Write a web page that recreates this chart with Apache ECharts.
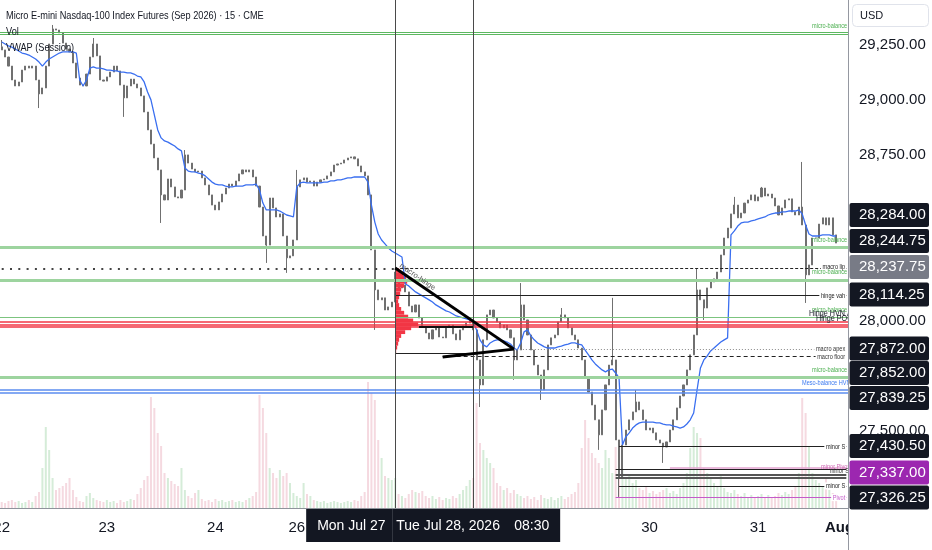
<!DOCTYPE html>
<html><head><meta charset="utf-8">
<script src="https://cdn.jsdelivr.net/npm/echarts@6/dist/echarts.min.js"></script>
<style>html,body{margin:0;padding:0;background:#fff}#c{width:932px;height:550px}</style>
</head><body><div id="c"></div>
<script>
// ---------------- DATA ----------------
const slotCount = 250;
const firstOpen = 29240;
const closes = [29226,29194,29153,29090,29063,29081,29135,29153,29144,29153,
29090,29027,29054,29153,29253,29321,29316,29303,29257,29230,
29217,29167,29099,29067,29063,29117,29194,29253,29199,29090,
29085,29104,29126,29153,29131,29067,29009,29063,29094,29072,
29054,29018,28945,28864,28800,28737,28683,28570,28547,28642,
28606,28561,28556,28592,28751,28714,28687,28674,28678,28647,
28615,28570,28524,28502,28538,28574,28601,28619,28610,28633,
28665,28683,28674,28683,28651,28610,28515,28384,28343,28556,
28511,28470,28484,28384,28285,28294,28366,28606,28638,28647,
28628,28633,28610,28628,28638,28642,28656,28674,28705,28710,
28714,28728,28737,28742,28733,28701,28674,28656,28570,28321,
28140,28095,28104,28049,28063,28085,28221,28149,28162,28131,
28067,28040,28072,28013,27972,27945,27918,27959,27972,27927,
27923,27972,27981,27941,27914,27959,27977,27990,28004,27959,
27823,27710,27914,28027,28049,28013,27995,27968,27981,27959,
27923,27823,27868,28072,28004,27936,27868,27800,27755,27687,
27778,27891,27923,27936,27995,28027,28013,27968,27936,27914,
27877,27823,27742,27678,27619,27552,27484,27597,27710,27800,
27823,27461,27289,27438,27506,27552,27588,27633,27597,27552,
27506,27515,27493,27461,27447,27429,27452,27506,27552,27606,
27660,27710,27778,27846,27936,28140,28095,28058,28149,28176,
28190,28221,28298,28375,28420,28484,28524,28466,28488,28533,
28547,28570,28543,28561,28601,28565,28574,28556,28520,28479,
28511,28547,28552,28493,28479,28515,28434,28208,28253,28375,
28375,28438,28466,28434,28466,28389,28352];
const wickIdx  = [0,11,15,27,36,47,54,78,84,87,110,141,151,153,159,165,176,180,182,187,195,205,207,216,224,236,237];
const wickLow  = [null,28963,null,null,28923,28443,null,28262,28217,null,27959,27610,27733,null,27642,null,27416,null,27203,null,27357,null,28004,null,null,null,28081];
const wickHigh = [29271,null,29339,29280,null,null,28773,null,null,28683,null,null,null,28171,null,28058,null,28104,null,27687,null,28239,null,28561,28606,28719,null];
const vwap = [29262,29253,29244,29239,29230,29221,29212,29208,29203,29194,
29185,29171,29153,29171,29185,29194,29203,29212,29217,29217,
29217,29217,29212,29090,29063,29090,29144,29149,29144,29144,
29140,29135,29135,29131,29131,29126,29126,29122,29122,29117,
29108,29104,29081,29036,29000,28932,28864,28828,28814,28809,
28800,28791,28778,28769,28692,28678,28674,28674,28669,28665,
28656,28642,28628,28619,28615,28615,28610,28606,28606,28610,
28610,28610,28615,28615,28615,28619,28592,28533,28502,28502,
28502,28502,28497,28488,28479,28475,28470,28606,28624,28628,
28624,28624,28624,28624,28624,28628,28628,28633,28633,28638,
28638,28642,28647,28647,28651,28651,28651,28651,28628,28524,
28447,28393,28366,28348,28330,28316,28307,28298,28289,28167,
28158,28144,28131,28122,28113,28104,28095,28085,28072,28063,
28054,28045,28040,28031,28022,28018,28013,28009,28004,27995,
27959,27914,27891,27882,27900,27909,27914,27914,27909,27904,
27895,27877,27868,27900,27950,27959,27932,27914,27900,27891,
27882,27877,27877,27877,27882,27886,27891,27895,27900,27900,
27895,27891,27868,27846,27823,27805,27791,27778,27769,27778,
27782,27764,27742,27438,27475,27493,27515,27529,27538,27542,
27542,27542,27542,27538,27538,27533,27529,27529,27524,27520,
27515,27520,27533,27552,27583,27687,27787,27823,27841,27864,
27877,27891,27904,27914,27923,28389,28407,28429,28443,28447,
28447,28452,28456,28461,28466,28470,28479,28484,28488,28488,
28493,28493,28497,28497,28497,28502,28484,28434,28393,28384,
28384,28384,28389,28389,28389,28384,28384];
const volumes = [30,25,35,40,30,35,25,30,40,30,
60,80,200,405,290,150,90,100,110,125,
150,90,55,35,30,60,75,50,40,35,
30,40,30,35,25,40,30,35,45,40,
70,100,140,160,555,500,375,310,175,150,
135,120,110,200,90,60,50,75,90,45,
35,40,30,45,35,40,30,35,40,30,
35,30,40,50,60,80,565,500,375,200,
175,150,190,160,175,125,75,60,50,125,
70,60,40,35,30,35,25,30,35,30,
25,30,35,30,40,35,60,80,630,575,
540,340,250,160,150,140,150,70,60,50,
70,90,80,75,85,60,50,60,45,55,
40,50,45,60,50,70,90,110,140,150,
525,325,290,250,225,200,125,110,90,100,
75,90,70,60,50,60,45,55,40,65,
50,45,55,40,50,60,45,55,70,80,
125,300,440,350,275,250,225,200,290,250,
175,305,225,190,150,160,125,140,100,90,
110,75,85,70,80,90,100,75,85,70,
100,125,175,300,405,375,350,200,175,150,
125,110,160,100,80,75,90,70,60,75,
55,65,50,60,70,55,65,50,60,75,
65,80,70,90,110,175,550,475,310,175,
140,125,110,150,90,75,70];
const dayTicks = ['22','23','24','26','30','31','Aug'];
const dayTickIdx = [0,31,63,87,191,223,247];
const priceTicks = [29250,29000,28750,28500,28250,28000,27750,27500];
const tagValues = [28284.00,28244.75,28237.75,28114.25,27872.00,27852.00,27839.25,27430.50,27337.00,27326.25];
const profileSlot = 116;
const profileTops = [28237.75,28220.25,28202.75,28185.25,28167.75,28150.25,28132.75,28115.25,28097.75,28080.25,28062.75,28045.25,28027.75,28010.25,27992.75,27975.25,27957.75,27940.25,27922.75,27905.25,27887.75,27870.25];
const profileStep = 17.5;
const profileVols = [400,800,1100,1200,900,600,500,400,300,400,600,900,1300,1800,2300,1600,1000,600,400,300,200,100];
const levelPrices = [29305,29296,28332,28237.75,28237.75,28183,28114.25,28014,27997,27984,27973,27972,27872,27852,27839.25,27746,27690,27675,27430.5,27337,27326.25,27302,27290,27253,27200];
const levelFrom   = [0,0,0,0,116,0,116,0,0,0,0,123,151,116,130,0,0,0,182,197,181,181,181,182,181];
const levelTo     = [249,249,249,116,249,249,249,249,249,249,249,139,249,139,249,249,249,249,249,249,249,249,249,249,249];
const levelKind   = ['green','green','band','dots','fine','band','solid','thin','red','red','red','poc','apex','solid','floor','band','blue','blue','solid','pink','solid','thick','thick','solid','magenta'];
const trendA = [[116,28239],[151,27872]];
const trendB = [[130,27836],[151,27872]];
const markerSlots = [116,139];
const labelTexts  = ['micro-balance','micro-balance','macro lip','micro-balance','hinge vah','micro-balance','Hinge HVN A','Hinge POC','macro apex','macro floor','micro-balance','Meso-balance HVN','minor S','minor Pivot','minor S','minor S','Pivot'];
const labelPrices = [29305,28332,28237.75,28183,28114.25,28014,28014,28014,27872,27839.25,27746,27690,27430.5,27337,27326.25,27253,27200];

// ---------------- STYLE / LAYOUT ----------------
const FONT = '"Liberation Sans", Arial, sans-serif';
const kindStyle = {
  green:{color:'#5cb860',width:1,type:'solid'},
  band:{color:'#9dd49f',width:3,type:'solid'},
  thin:{color:'#7cc47f',width:1,type:'solid'},
  dots:{color:'#444',width:2,type:[2,6.3]},
  fine:{color:'#222',width:1,type:[3,2]},
  solid:{color:'#222',width:1,type:'solid'},
  red:{color:'#f23645',width:1.6,type:'solid'},
  poc:{color:'#111',width:2,type:'solid'},
  apex:{color:'#8a8a8a',width:1,type:[1,2]},
  floor:{color:'#222',width:1.2,type:[4,3]},
  blue:{color:'#5b8def',width:1.5,type:'solid'},
  pink:{color:'#e3a3d0',width:1.5,type:'solid'},
  thick:{color:'#555',width:2,type:'solid'},
  magenta:{color:'#c45ac9',width:1,type:'solid'}
};
const labelLayout = [
  {x:812,dy:-6.5,a:'left',c:'#4caf50',s:7},
  {x:812,dy:-7.5,a:'left',c:'#4caf50',s:7},
  {x:846,dy:-1.5,a:'right',c:'#222',s:7,bg:1},
  {x:812,dy:-8,a:'left',c:'#4caf50',s:7},
  {x:846,dy:0,a:'right',c:'#222',s:7,bg:1},
  {x:812,dy:-7.5,a:'left',c:'#4caf50',s:7},
  {x:809,dy:-4.7,a:'left',c:'#131722',s:9},
  {x:816,dy:0.6,a:'left',c:'#131722',s:9},
  {x:846,dy:0,a:'right',c:'#333',s:7,bg:1},
  {x:846,dy:1,a:'right',c:'#333',s:7,bg:1},
  {x:812,dy:-7,a:'left',c:'#4caf50',s:7},
  {x:802,dy:-6,a:'left',c:'#3d7af0',s:7},
  {x:846,dy:0,a:'right',c:'#222',s:7,bg:1},
  {x:849,dy:-0.5,a:'right',c:'#d06ab5',s:7},
  {x:849,dy:1,a:'right',c:'#333',s:7},
  {x:846,dy:0,a:'right',c:'#222',s:7,bg:1},
  {x:846,dy:0,a:'right',c:'#c45ac9',s:7,bg:1}
];
const tagY = [215,241,267,294.5,348.5,373,398,446,472.5,497.5];
const tagFill = ['#131722','#131722','#787b86','#131722','#131722','#131722','#131722','#131722','#9c27b0','#131722'];
const candleColor = '#707070';
const volUp = '#d5ecd8', volDown = '#f5d9e0';

// ---------------- BUILD ----------------
const ohlc = closes.map((c, i) => {
  const o = i ? closes[i - 1] : firstOpen;
  let lo = Math.min(o, c), hi = Math.max(o, c);
  const k = wickIdx.indexOf(i);
  if (k >= 0) {
    if (wickLow[k] != null) lo = Math.min(lo, wickLow[k]);
    if (wickHigh[k] != null) hi = Math.max(hi, wickHigh[k]);
  }
  return [o, c, lo, hi];
});
const slotNames = Array.from({length: slotCount}, (_, i) => 's' + i);
const slotLabel = {};
dayTickIdx.forEach((idx, k) => { slotLabel['s' + idx] = dayTicks[k]; });

const markData = [];
levelPrices.forEach((p, i) => {
  const ls = kindStyle[levelKind[i]];
  if (levelFrom[i] === 0 && levelTo[i] === slotCount - 1) {
    markData.push({yAxis: p, lineStyle: ls});
  } else {
    markData.push([{coord: [levelFrom[i], p], lineStyle: ls}, {coord: [levelTo[i], p]}]);
  }
});
markerSlots.forEach(s => markData.push({xAxis: s, lineStyle: {color: '#4a4a4a', width: 1, type: 'solid'}}));
[trendA, trendB].forEach(t => markData.push([{coord: t[0], lineStyle: {color: '#000', width: 3, type: 'solid'}}, {coord: t[1]}]));

const chart = echarts.init(document.getElementById('c'), null, {renderer: 'canvas'});
chart.setOption({
  animation: false,
  backgroundColor: '#ffffff',
  grid: {left: 0, right: 84, top: 0, bottom: 42, containLabel: false, outerBoundsMode: 'none'},
  xAxis: {
    type: 'category', data: slotNames, boundaryGap: true,
    axisLine: {show: true, lineStyle: {color: '#8f939b', width: 1}},
    axisTick: {show: false}, splitLine: {show: false},
    axisLabel: {
      interval: 0, margin: 12, fontSize: 15, color: '#131722', fontFamily: FONT,
      formatter: v => { const t = slotLabel[v]; if (!t) return ''; return t === 'Aug' ? '{b|Aug}' : t; },
      rich: {b: {fontWeight: 'bold', fontSize: 15, color: '#131722', fontFamily: FONT}}
    }
  },
  yAxis: [
    {type: 'value', position: 'right', min: 27153, max: 29452, axisLine: {show: false}, axisTick: {show: false}, axisLabel: {show: false}, splitLine: {show: false}},
    {type: 'value', min: 0, max: 2540, show: false, splitLine: {show: false}}
  ],
  series: [
    {type: 'bar', name: 'Vol', yAxisIndex: 1, barWidth: 2, silent: true, z: 1,
     data: volumes.map((v, i) => ({value: v, itemStyle: {color: ohlc[i] && ohlc[i][1] >= ohlc[i][0] ? volUp : volDown}}))},
    {type: 'candlestick', name: 'MNQ', data: ohlc, barWidth: 1.6, silent: true, z: 2,
     itemStyle: {color: candleColor, color0: candleColor, borderColor: candleColor, borderColor0: candleColor, borderWidth: 1}},
    {type: 'custom', name: 'profile', silent: true, z: 3,
     data: profileTops.map((t, k) => [profileSlot, t, t - profileStep, profileVols[k]]),
     encode: {x: 0, y: [1, 2]},
     renderItem: (params, api) => {
       const a = api.coord([api.value(0), api.value(1)]);
       const b = api.coord([api.value(0), api.value(2)]);
       return {type: 'rect', shape: {x: a[0], y: a[1], width: api.value(3) * 0.01, height: b[1] - a[1]}, style: {fill: '#f23645'}};
     }},
    {type: 'line', name: 'VWAP (Session)', data: vwap, showSymbol: false, symbol: 'none', silent: true, z: 4,
     lineStyle: {color: '#3a6ff0', width: 1.3},
     markLine: {silent: true, symbol: ['none', 'none'], label: {show: false}, animation: false, data: markData}}
  ]
});

// ---------------- OVERLAY TEXT ----------------
const Y = p => chart.convertToPixel({yAxisIndex: 0}, p);
const X = i => chart.convertToPixel({xAxisIndex: 0}, i);
const F = (s, w) => (w || 'normal') + ' ' + s + 'px ' + FONT;
const els = [];
labelTexts.forEach((t, k) => {
  const L = labelLayout[k];
  els.push({type: 'text', x: L.x, y: Y(labelPrices[k]) + L.dy, scaleX: 0.8, z: 10, silent: true,
    style: {text: t, fill: L.c, font: F(L.s), align: L.a, verticalAlign: 'middle', textAlign: L.a, textVerticalAlign: 'middle',
            backgroundColor: L.bg ? '#ffffff' : 'transparent', padding: L.bg ? [0, 1, 0, 2] : 0}});
});
// trendline caption
const ta = chart.convertToPixel({xAxisIndex: 0, yAxisIndex: 0}, trendA[0]);
const tb = chart.convertToPixel({xAxisIndex: 0, yAxisIndex: 0}, trendA[1]);
els.push({type: 'text', x: ta[0] + 5, y: ta[1] - 3, rotation: -Math.atan2(tb[1] - ta[1], tb[0] - ta[0]), z: 11, silent: true,
  style: {text: 'macro-hinge', fill: '#555', font: F(7.5), align: 'left', verticalAlign: 'middle', textAlign: 'left', textVerticalAlign: 'middle'}});
// legend / title
[['Micro E-mini Nasdaq-100 Index Futures (Sep 2026) · 15 · CME', 16], ['Vol', 32], ['VWAP (Session)', 48]].forEach(([t, y]) => {
  els.push({type: 'text', x: 6, y: y, scaleX: 0.8, z: 12, silent: true,
    style: {text: t, fill: '#131722', font: F(11.5), align: 'left', verticalAlign: 'middle', textAlign: 'left', textVerticalAlign: 'middle'}});
});
// price scale panel
els.push({type: 'rect', shape: {x: 849, y: 0, width: 83, height: 550}, style: {fill: '#ffffff'}, z: 20, silent: true});
els.push({type: 'line', shape: {x1: 848.5, y1: 0, x2: 848.5, y2: 550}, style: {stroke: '#9598a1', lineWidth: 1}, z: 21, silent: true});
els.push({type: 'rect', shape: {x: 852.5, y: 4.5, width: 76, height: 22, r: 4}, style: {fill: '#fff', stroke: '#e0e3eb', lineWidth: 1}, z: 21, silent: true});
els.push({type: 'text', x: 860, y: 15.5, z: 22, silent: true, style: {text: 'USD', fill: '#131722', font: F(11), align: 'left', verticalAlign: 'middle', textAlign: 'left', textVerticalAlign: 'middle'}});
const fmt = v => v.toLocaleString('en-US', {minimumFractionDigits: 2, maximumFractionDigits: 2});
priceTicks.forEach(v => {
  els.push({type: 'text', x: 859, y: Y(v), z: 22, silent: true,
    style: {text: fmt(v), fill: '#131722', font: F(15), align: 'left', verticalAlign: 'middle', textAlign: 'left', textVerticalAlign: 'middle'}});
});
tagValues.forEach((v, k) => {
  els.push({type: 'rect', shape: {x: 849.5, y: tagY[k] - 12, width: 79.5, height: 24, r: 2}, style: {fill: tagFill[k]}, z: 23, silent: true});
  els.push({type: 'text', x: 859, y: tagY[k], z: 24, silent: true,
    style: {text: fmt(v), fill: '#ffffff', font: F(15), align: 'left', verticalAlign: 'middle', textAlign: 'left', textVerticalAlign: 'middle'}});
});
// time scale date boxes
const xm = X(markerSlots[0]);
els.push({type: 'rect', shape: {x: xm - 89, y: 509, width: 86, height: 33}, style: {fill: '#131722'}, z: 25, silent: true});
els.push({type: 'text', x: xm - 78, y: 526, z: 26, silent: true, style: {text: 'Mon Jul 27', fill: '#fff', font: F(14), align: 'left', verticalAlign: 'middle', textAlign: 'left', textVerticalAlign: 'middle'}});
els.push({type: 'rect', shape: {x: xm - 3, y: 509, width: 168, height: 33}, style: {fill: '#131722'}, z: 25, silent: true});
els.push({type: 'text', x: xm + 1, y: 526, z: 26, silent: true, style: {text: 'Tue Jul 28, 2026', fill: '#fff', font: F(14), align: 'left', verticalAlign: 'middle', textAlign: 'left', textVerticalAlign: 'middle'}});
els.push({type: 'text', x: xm + 119, y: 526, z: 26, silent: true, style: {text: '08:30', fill: '#fff', font: F(14), align: 'left', verticalAlign: 'middle', textAlign: 'left', textVerticalAlign: 'middle'}});
chart.setOption({graphic: {elements: els}});
</script></body></html>
